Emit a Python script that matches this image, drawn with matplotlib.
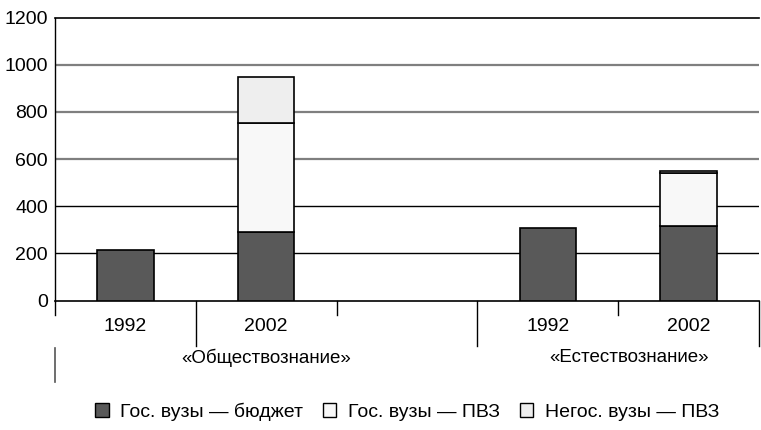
import numpy as np
import matplotlib
matplotlib.use('Agg')
import matplotlib.pyplot as plt
import matplotlib.transforms as mtransforms
from matplotlib.patches import Patch

plt.rcParams['font.family'] = ['Liberation Sans', 'DejaVu Sans']

# данные
years = ['1992', '2002', '', '1992', '2002']
groups = ['«Обществознание»', '«Естествознание»']
gos_budget = [213, 290, 0, 307, 315]
gos_pvz = [0, 465, 0, 0, 225]
negos_pvz = [0, 195, 0, 0, 8]
series_names = ['Гос. вузы — бюджет', 'Гос. вузы — ПВЗ', 'Негос. вузы — ПВЗ']
colors = ['#595959', '#f8f8f8', '#eeeeee']

fig = plt.figure(figsize=(7.61, 4.30), dpi=100)
ax = fig.add_axes([0.0723, 0.3007, 0.925, 0.6586])

x = np.arange(len(years))
bottom = np.zeros(len(years))
for vals, col in zip([gos_budget, gos_pvz, negos_pvz], colors):
    vals = np.array(vals, dtype=float)
    m = vals > 0
    ax.bar(x[m], vals[m], 0.4, bottom=bottom[m], color=col,
           edgecolor='black', linewidth=1.2, zorder=3)
    bottom += vals

ax.set_xlim(-0.5, len(years) - 0.5)
ax.set_ylim(0, 1200)
ax.set_yticks(range(0, 1201, 200))
ax.tick_params(axis='y', length=0, pad=5, labelsize=14)
ax.set_xticks([])

# линии сетки
for v in [200, 400]:
    ax.axhline(v, color='black', lw=1.0, zorder=1)
for v in [600, 800, 1000]:
    ax.axhline(v, color='#7f7f7f', lw=1.6, zorder=1)

ax.spines['right'].set_visible(False)
ax.spines['top'].set_linewidth(1.2)
ax.spines['left'].set_linewidth(1.0)
ax.spines['bottom'].set_linewidth(1.2)

# подписи оси X
tr = mtransforms.blended_transform_factory(ax.transData, ax.transAxes)
short_len = 14 / 283
long_len = 45 / 283
for xb in [-0.5, 1.5, 3.5]:
    ax.plot([xb, xb], [0, -short_len], color='black', lw=1, transform=tr, clip_on=False)
for xb in [0.5, 2.5, 4.5]:
    ax.plot([xb, xb], [0, -long_len], color='black', lw=1, transform=tr, clip_on=False)
ax.plot([-0.5, -0.5], [-47 / 283, -81 / 283], color='#555555', lw=1.2,
        transform=tr, clip_on=False)

for xi, lab in zip(x, years):
    ax.text(xi, -26 / 283, lab, transform=tr, ha='center', va='center', fontsize=14)
ax.text(1.0, -57 / 283, groups[0], transform=tr, ha='center', va='center', fontsize=13.5)
ax.text(3.58, -57 / 283, groups[1], transform=tr, ha='center', va='center', fontsize=13.5)

handles = [Patch(facecolor=c, edgecolor='black', linewidth=1.0) for c in colors]
fig.legend(handles, series_names, loc='center', bbox_to_anchor=(0.535, 0.042),
           ncol=3, frameon=False, fontsize=14, handlelength=0.7, handleheight=0.7,
           handletextpad=0.6, columnspacing=1.0)

fig.savefig('out.png', dpi=100)
